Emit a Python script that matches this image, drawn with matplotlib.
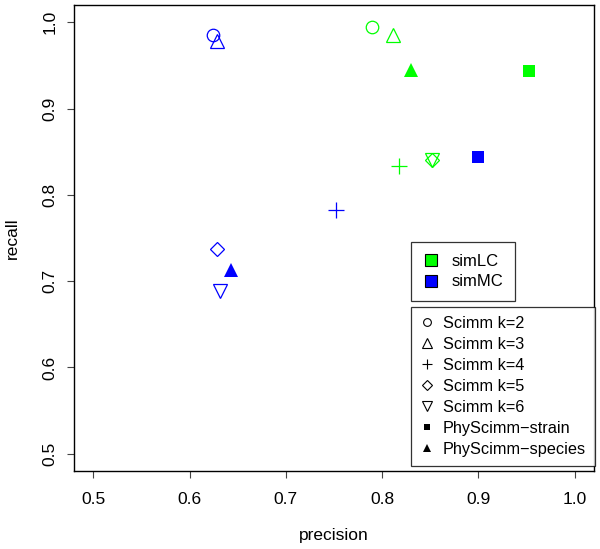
import matplotlib
matplotlib.use('Agg')
import matplotlib.pyplot as plt
from matplotlib.lines import Line2D

plt.rcParams['font.family'] = ['Liberation Sans', 'DejaVu Sans']

# precision / recall per method, for each dataset
methods = ['Scimm k=2', 'Scimm k=3', 'Scimm k=4', 'Scimm k=5', 'Scimm k=6',
           'PhyScimm\u2212strain', 'PhyScimm\u2212species']
lc_precision = [0.789, 0.811, 0.817, 0.852, 0.852, 0.952, 0.830]
lc_recall = [0.995, 0.985, 0.834, 0.840, 0.840, 0.944, 0.945]
mc_precision = [0.6245, 0.628, 0.752, 0.629, 0.632, 0.900, 0.643]
mc_recall = [0.985, 0.978, 0.783, 0.737, 0.689, 0.844, 0.713]

datasets = ['simLC', 'simMC']
colors = {'simLC': '#00FF00', 'simMC': '#0000FF'}

# marker, size, filled
styles = [('o', 9, False), ('^', 10.5, False), ('+', 11.5, False),
          ('D', 7.5, False), ('v', 10.5, False), ('s', 8, True), ('^', 10, True)]

fig = plt.figure(figsize=(6, 5.49), dpi=100)
ax = fig.add_axes([74 / 600, 78 / 549, 520 / 600, 466 / 549])

for name, xs, ys in [('simLC', lc_precision, lc_recall), ('simMC', mc_precision, mc_recall)]:
    c = colors[name]
    for (m, ms, filled), x, y in zip(styles, xs, ys):
        if filled:
            ax.plot(x, y, marker=m, ms=ms, color=c, mec=c, mew=0, ls='none')
        else:
            ax.plot(x, y, marker=m, ms=ms, mfc='none', mec=c, mew=0.9, ls='none')

ax.set_xlim(0.48, 1.02)
ax.set_ylim(0.48, 1.02)
ax.set_xticks([0.5, 0.6, 0.7, 0.8, 0.9, 1.0])
ax.set_yticks([0.5, 0.6, 0.7, 0.8, 0.9, 1.0])
ax.set_xticklabels(['0.5', '0.6', '0.7', '0.8', '0.9', '1.0'])
ax.set_yticklabels(['0.5', '0.6', '0.7', '0.8', '0.9', '1.0'], rotation=90, va='center')
ax.tick_params(length=5, width=0.8, labelsize=12.5, color='#444444')
ax.tick_params(axis='x', pad=10)
ax.tick_params(axis='y', pad=7)
for s in ax.spines.values():
    s.set_linewidth(1.0)
ax.set_xlabel('precision', fontsize=12.5, labelpad=15)
ax.set_ylabel('recall', fontsize=12.5, labelpad=16)

# dataset colour legend
h1 = [Line2D([], [], marker='s', ls='none', ms=9, mfc=colors[d], mec='black', mew=0.8)
      for d in datasets]
leg1 = ax.legend(h1, datasets, loc='upper left', bbox_to_anchor=(411 / 600, 1 - 242 / 549),
                 bbox_transform=fig.transFigure, fontsize=12, frameon=True, fancybox=False,
                 edgecolor='black', borderpad=0.7, labelspacing=0.35, handletextpad=0.75,
                 handlelength=1.0, borderaxespad=0)
leg1.get_frame().set_linewidth(0.9)
ax.add_artist(leg1)

# method marker legend
h2 = []
for m, ms, filled in styles:
    size = ms * 0.62
    if filled:
        h2.append(Line2D([], [], marker=m, ls='none', ms=size, color='black', mew=0))
    else:
        h2.append(Line2D([], [], marker=m, ls='none', ms=size, mfc='none', mec='black', mew=0.8))
leg2 = ax.legend(h2, methods, loc='upper left', bbox_to_anchor=(411 / 600, 1 - 307 / 549),
                 bbox_transform=fig.transFigure, fontsize=11.7, frameon=True, fancybox=False,
                 edgecolor='black', borderpad=0.55, labelspacing=0.37, handletextpad=0.5,
                 handlelength=0.9, borderaxespad=0)
leg2.get_frame().set_linewidth(0.9)

fig.savefig('out.png', dpi=100)
